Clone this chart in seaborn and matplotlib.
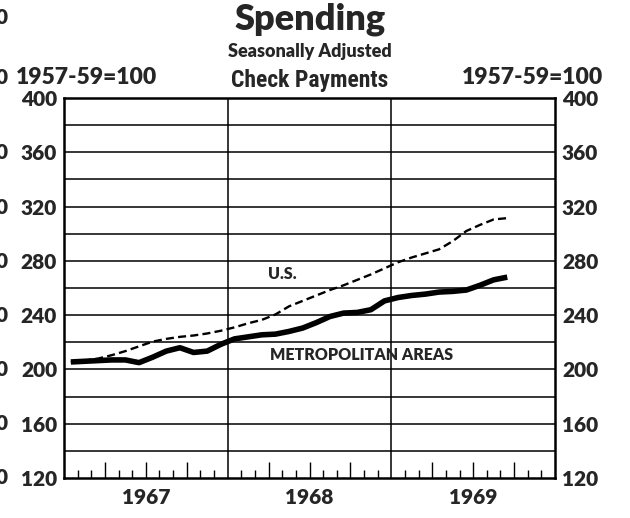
import numpy as np
import pandas as pd
import matplotlib
matplotlib.use("Agg")
import matplotlib.pyplot as plt
import seaborn as sns

# monthly check payments index, 1957-59=100, Jan 1967 .. Sep 1969
months = np.arange(33) + 0.5
us_index = [205.5, 206.5, 208, 210.5, 213.5, 217, 220.5, 222.5, 224, 225, 226.5, 228.5,
            231, 234, 236.5, 240.5, 246.5, 250.5, 254.5, 258.5, 262, 266, 270, 274.5,
            279, 282.5, 285.5, 288.5, 294.5, 302, 306.5, 310.5, 311.5]
metro_index = [205.5, 206, 206.5, 207, 207, 205, 209, 213.5, 216, 212.5, 213.5, 218.5,
               222.5, 224, 225.5, 226, 228, 230.5, 234.5, 239, 241.5, 242, 244, 250.5,
               253, 254.5, 255.5, 257, 257.5, 258.5, 262, 266, 268]
year_labels = ["1967", "1968", "1969"]
y_ticks = [120, 160, 200, 240, 280, 320, 360, 400]

df = pd.DataFrame({"month": months, "us": us_index, "metro": metro_index})

sns.set_style("white")
plt.rcParams["font.family"] = ["Lato", "DejaVu Sans"]

W, H = 630, 518
fig = plt.figure(figsize=(W / 100, H / 100), dpi=100)
ax = fig.add_axes([64 / W, 40 / H, 491 / W, 380 / H])

sns.lineplot(data=df, x="month", y="us", ax=ax, color="black", lw=1.7,
             dashes=False, linestyle=(0, (3.4, 1.8)))
sns.lineplot(data=df, x="month", y="metro", ax=ax, color="black", lw=4.0,
             solid_capstyle="butt")

ax.set_xlim(0, 36)
ax.set_ylim(120, 400)

# grid every 20, labels every 40
ax.set_yticks(y_ticks)
ax.set_yticklabels([str(v) for v in y_ticks])
ax.grid(False)
for v in np.arange(140, 400, 20):
    ax.axhline(v, color="black", lw=1.1, zorder=1)
for yb in (12, 24):
    ax.axvline(yb, color="black", lw=1.1, zorder=1)

# month ticks inside the bottom, longer at quarters
for m in range(1, 36):
    if m % 12 == 0:
        continue
    h = 11.5 if m % 3 == 0 else 6
    ax.vlines(m, 120, 120 + h, color="black", lw=1.0, zorder=1)

ax.set_xticks([6, 18, 30])
ax.set_xticklabels(year_labels)
ax.tick_params(axis="x", length=0, pad=7, labelsize=15)
ax.tick_params(axis="y", length=0, labelsize=15,
               labelleft=True, labelright=True, pad=5)
for lab in ax.get_xticklabels() + ax.yaxis.get_ticklabels(which="major"):
    lab.set_fontweight("heavy")

for s in ax.spines.values():
    s.set_visible(True)
    s.set_color("black")
    s.set_linewidth(1.8)
ax.set_xlabel("")
ax.set_ylabel("")

# series labels
ax.text(16.0, 270, "U.S.", fontsize=11.5, fontweight="heavy", ha="center", va="center")
ax.text(21.8, 210.5, "METROPOLITAN AREAS", fontsize=11.5, fontweight="heavy",
        ha="center", va="center")

# titles
fig.text(310 / W, 1 - 19 / H, "Spending", fontsize=26, fontweight="heavy",
         ha="center", va="center")
fig.text(310 / W, 1 - 52 / H, "Seasonally Adjusted", fontsize=13, fontweight="heavy",
         ha="center", va="center")
fig.text(310 / W, 1 - 80 / H, "Check Payments", fontsize=17, fontweight="bold",
         family=["Roboto Condensed", "DejaVu Sans"], fontstretch="condensed",
         ha="center", va="center")
fig.text(16 / W, 1 - 78 / H, "1957-59=100", fontsize=16.5, fontweight="heavy",
         ha="left", va="center")
fig.text(603 / W, 1 - 78 / H, "1957-59=100", fontsize=16.5, fontweight="heavy",
         ha="right", va="center")

# clipped labels of the neighbouring chart at the left edge
edge_rows = [18, 78, 152, 207, 261, 315, 370, 424, 478]
for yp in edge_rows:
    fig.text(8 / W, 1 - yp / H, "0", fontsize=15, fontweight="heavy",
             ha="right", va="center")

fig.savefig("out.png", dpi=100)
